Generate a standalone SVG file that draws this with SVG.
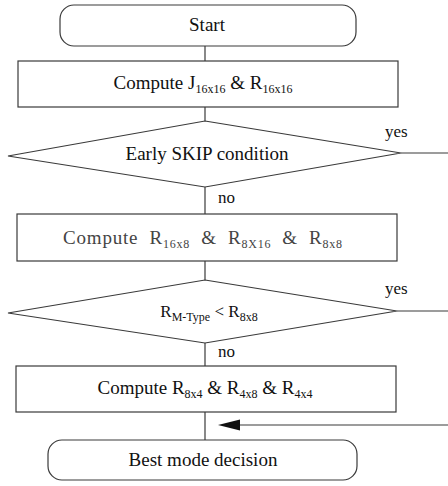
<svg xmlns="http://www.w3.org/2000/svg" width="448" height="486" viewBox="0 0 448 486">
<style>
.shape{fill:#fff;stroke:#3a3a3a;stroke-width:1.2}
.conn{fill:none;stroke:#3a3a3a;stroke-width:1.2}
text{font-family:"Liberation Serif","Times New Roman",serif;fill:#111}
.t{font-size:19px;text-anchor:middle}
.lab{font-size:17px}
.sub{font-size:12px}
.m{font-size:19px;text-anchor:middle;fill:#444;letter-spacing:0.8px}
</style>
<rect width="448" height="486" fill="#fff"/>
<g id="connectors">
<line class="conn" x1="205" y1="46" x2="205" y2="61"/>
<line class="conn" x1="205" y1="107" x2="205" y2="121"/>
<line class="conn" x1="205" y1="187" x2="205" y2="214"/>
<line class="conn" x1="205" y1="261" x2="205" y2="280"/>
<line class="conn" x1="205" y1="343" x2="205" y2="366"/>
<line class="conn" x1="205" y1="412" x2="205" y2="440"/>
<line class="conn" x1="401" y1="153" x2="448" y2="153"/>
<line class="conn" x1="397" y1="311" x2="448" y2="311"/>
<line class="conn" x1="448" y1="425" x2="240" y2="425"/>
<path d="M218,425 L240,419.5 L240,430.5 Z" fill="#111"/>
<text class="lab" x="385" y="137">yes</text>
<text class="lab" x="385" y="294">yes</text>
<text class="lab" x="218" y="203">no</text>
<text class="lab" x="218" y="357">no</text>
</g>
<g id="start">
<rect class="shape" x="60" y="5" width="296" height="41" rx="14"/>
<text class="t" x="207" y="31">Start</text>
</g>
<g id="compute1">
<rect class="shape" x="18" y="61" width="380" height="46"/>
<text class="t" x="203" y="89">Compute J<tspan class="sub" dy="4">16x16</tspan><tspan dy="-4"> &amp; R</tspan><tspan class="sub" dy="4">16x16</tspan></text>
</g>
<g id="skip">
<polygon class="shape" points="205,121 401,153 205,187 8,156"/>
<text class="t" x="207" y="160">Early SKIP condition</text>
</g>
<g id="compute2">
<rect class="shape" x="17" y="214" width="380" height="47"/>
<text class="m" x="203" y="244" xml:space="preserve">Compute  R<tspan class="sub" dy="4">16x8</tspan><tspan dy="-4">  &amp;  R</tspan><tspan class="sub" dy="4">8X16</tspan><tspan dy="-4">  &amp;  R</tspan><tspan class="sub" dy="4">8x8</tspan></text>
</g>
<g id="mtype">
<polygon class="shape" points="205,280 397,311 205,343 8,313"/>
<text class="t" x="209" y="317" style="font-size:17px">R<tspan class="sub" dy="4">M-Type</tspan><tspan dy="-4"> &lt; R</tspan><tspan class="sub" dy="4">8x8</tspan></text>
</g>
<g id="compute3">
<rect class="shape" x="16" y="366" width="380" height="46"/>
<text class="t" x="205" y="394">Compute R<tspan class="sub" dy="4">8x4</tspan><tspan dy="-4"> &amp; R</tspan><tspan class="sub" dy="4">4x8</tspan><tspan dy="-4"> &amp; R</tspan><tspan class="sub" dy="4">4x4</tspan></text>
</g>
<g id="best">
<rect class="shape" x="48" y="440" width="309" height="40" rx="14"/>
<text class="t" x="203" y="466">Best mode decision</text>
</g>
</svg>
